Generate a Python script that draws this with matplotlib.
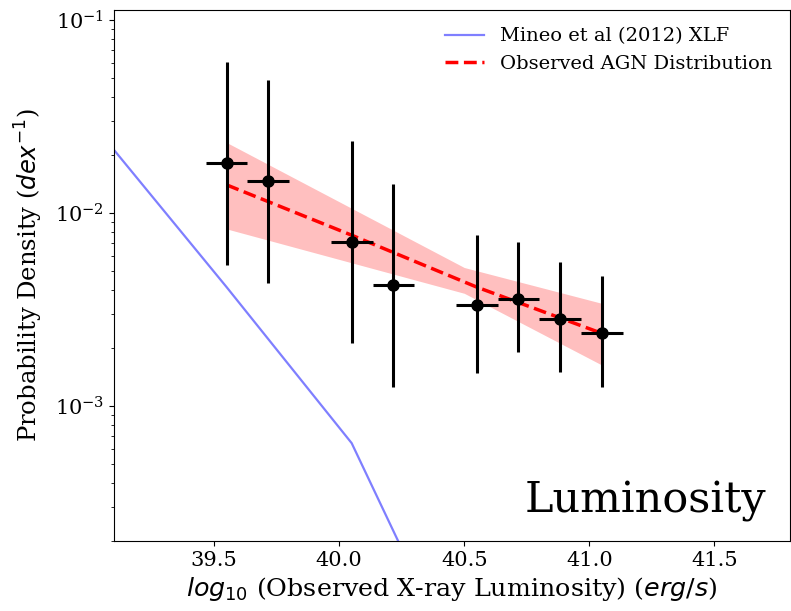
import numpy as np
import matplotlib
matplotlib.use("Agg")
from matplotlib import pyplot as plt

plt.rcParams["font.family"] = "serif"
plt.rcParams["font.serif"] = ["DejaVu Serif"]

# observed AGN bins
logL = [39.55, 39.7167, 40.05, 40.2167, 40.55, 40.7167, 40.8833, 41.05]
logL_err = 0.0833
pdf = [0.01817, 0.0147, 0.00712, 0.004248, 0.00333, 0.003605, 0.00284, 0.002383]
pdf_lo = [0.0054, 0.004347, 0.002123, 0.001259, 0.001483, 0.0019, 0.001494, 0.00125]
pdf_hi = [0.0605, 0.0488, 0.0237, 0.01419, 0.00774, 0.00712, 0.00561, 0.00471]

# fitted distribution + band
fit_x = [39.55, 40.05, 40.55, 41.05]
fit_y = [0.01402, 0.00769, 0.00414, 0.002383]
band_x = [39.55, 40.5, 41.05]
band_lo = [0.00829, 0.003844, 0.001633]
band_hi = [0.02325, 0.00523, 0.00341]

# Mineo et al (2012) XLF
mineo_x = [39.0, 39.55, 40.05, 40.55]
mineo_y = [0.0306, 0.00414, 0.000643, 2.77e-5]

fig = plt.figure(figsize=(7.91, 6.11), dpi=100)
ax = fig.add_axes([114 / 791, 70 / 611, 675.5 / 791, 531 / 611])

ax.plot(mineo_x, mineo_y, color="b", alpha=0.5, lw=1.6, label="Mineo et al (2012) XLF")
ax.fill_between(band_x, band_lo, band_hi, color="r", alpha=0.25, lw=0)
ax.plot(fit_x, fit_y, "r--", lw=2.5, label="Observed AGN Distribution")

pdf = np.array(pdf)
yerr = [pdf - np.array(pdf_lo), np.array(pdf_hi) - pdf]
ax.errorbar(logL, pdf, xerr=logL_err, yerr=yerr, fmt="o", color="k", ms=8, lw=2.2)

ax.set_yscale("log")
ax.set_xlim(39.1, 41.8)
ax.set_ylim(2e-4, 0.113)
ax.tick_params(labelsize=15)
ax.set_xlabel(r"$log_{10}$ (Observed X-ray Luminosity) ($erg/s$)", fontsize=18.3)
ax.set_ylabel(r"Probability Density ($dex^{-1}$)", fontsize=17.5, labelpad=7)
ax.legend(loc="upper right", frameon=False, fontsize=14)
ax.text(0.966, 0.053, "Luminosity", transform=ax.transAxes, ha="right", va="baseline", fontsize=31)

plt.savefig("out.png", dpi=100)
